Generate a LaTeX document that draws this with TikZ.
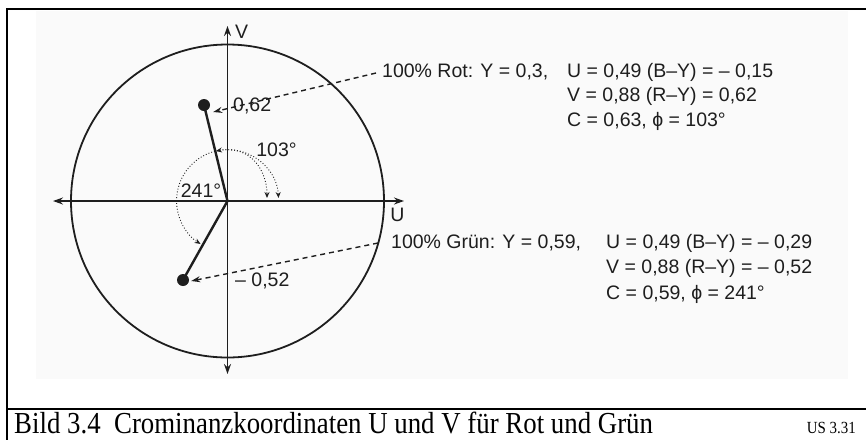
\documentclass[tikz,border=0pt]{standalone}
\usepackage{fontspec}
\setmainfont{Liberation Sans}
\newfontfamily\capfont[FakeStretch=0.88]{Liberation Serif}
\usetikzlibrary{arrows.meta,calc}
\definecolor{ink}{HTML}{1E1E1E}
\definecolor{bg}{HTML}{FAFAFA}
\tikzset{
  frameline/.style={line width=2.4pt, black},
  axisline/.style={line width=1.5pt, ink, {Stealth[length=10pt,width=7pt]}-{Stealth[length=10pt,width=7pt]}},
  vecline/.style={line width=2.4pt, ink},
  dashline/.style={line width=1.4pt, ink, dash pattern=on 5pt off 4pt, -{Stealth[length=9pt,width=6pt]}},
  dotarc/.style={line width=0.9pt, ink, dotted, {Stealth[length=6pt,width=5pt]}-{Stealth[length=6pt,width=5pt]}},
  lbl/.style={font=\fontsize{19.5}{21}\selectfont, text=ink, inner sep=0pt},
  dotnode/.style={circle, fill=ink, inner sep=0pt, minimum size=12pt},
}
\begin{document}
\begin{tikzpicture}[x=1pt,y=-1pt]
\useasboundingbox (0,0) rectangle (866,440);
\fill[white] (0,0) rectangle (866,440);
\fill[bg] (36,11) rectangle (848,379);
% frame
\draw[frameline] (7,9) -- (866,9);
\draw[frameline] (7,8) -- (7,440);
\draw[frameline] (7,409) -- (866,409);
% circle and axes
\coordinate (O) at (227.5,201);
\draw[line width=1.8pt, ink] (O) circle[radius=156.5];
\coordinate (xl) at (53,201);
\coordinate (xr) at (404,201);
\coordinate (yt) at (227.5,26);
\coordinate (yb) at (227.5,374);
\draw[axisline] (xl) -- (xr);
\draw[axisline] (yb) -- (yt);
\node[lbl] (vlab) at (241.5,32) {V};
\node[lbl] (ulab) at (397.5,215) {U};
% vectors
\node[dotnode] (rdot) at (204,105) {};
\node[dotnode] (gdot) at (183,280) {};
\draw[vecline] (O) -- (rdot.center);
\draw[vecline] (O) -- (gdot.center);
% dotted angle arcs
\coordinate (a1s) at (216,151);
\coordinate (a1e) at (267,198);
\coordinate (a2s) at ($(O)+(51,-3)$);
\draw[dotarc] (a1s) .. controls (250,145) and (267,170) .. (a1e);
\draw[dotarc] (a2s) arc[start angle=-3, end angle=-238, radius=51];
\node[lbl] (l103) at (276.5,149.5) {103°};
\node[lbl] (l241) at (201,190.5) {241°};
% value labels
\node[lbl, anchor=west] (l062) at (233,105.5) {0,62};
\node[lbl, anchor=west] (l052) at (235,281) {– 0,52};
% text blocks
\node[lbl, anchor=west] (rot1) at (382,72) {100\% Rot: Y = 0,3,};
\node[lbl, anchor=west] (rotu) at (567,72) {U = 0,49 (B–Y) = – 0,15};
\node[lbl, anchor=west] (rotv) at (567,96.5) {V = 0,88 (R–Y) = 0,62};
\node[lbl, anchor=west] (rotc) at (567,121.5) {C = 0,63,  ϕ = 103°};
\node[lbl, anchor=west] (gru1) at (391,243) {100\% Grün: Y = 0,59,};
\node[lbl, anchor=west] (gruu) at (606,243) {U = 0,49 (B–Y) = – 0,29};
\node[lbl, anchor=west] (gruv) at (606,268.5) {V = 0,88 (R–Y) = – 0,52};
\node[lbl, anchor=west] (gruc) at (606,294) {C = 0,59,  ϕ = 241°};
% dashed connectors
\draw[dashline] ([xshift=-6pt,yshift=-1pt]rot1.west) -- ([xshift=3pt,yshift=-7pt]rdot.east);
\draw[dashline] ([xshift=-13pt]gru1.west) -- ([xshift=2pt,yshift=-1pt]gdot.east);
% caption
\node[anchor=base west, inner sep=0pt, text depth=0pt, font=\capfont\fontsize{30.5}{31}\selectfont] (cap) at (14,433) {Bild 3.4\ \ Crominanzkoordinaten U und V für Rot und Grün};
\node[anchor=base east, inner sep=0pt, text depth=0pt, font=\capfont\fontsize{17}{18}\selectfont] (ref) at (856,433) {US 3.31};
\end{tikzpicture}
\end{document}
